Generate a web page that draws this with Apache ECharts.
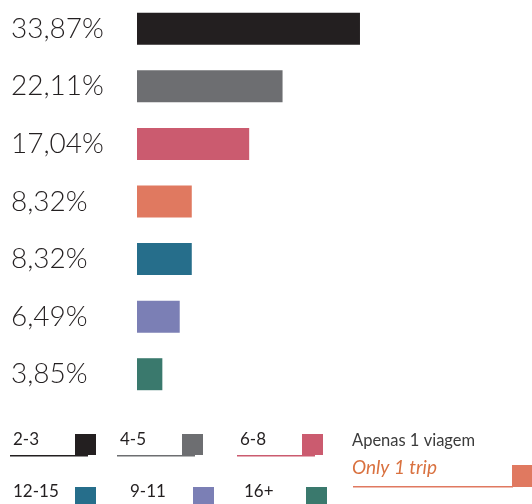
<!DOCTYPE html>
<html>
<head>
<meta charset="utf-8">
<script src="https://cdn.jsdelivr.net/npm/echarts@6/dist/echarts.min.js"></script>
<style>
  html, body { margin: 0; padding: 0; background: #fff; }
  #chart { width: 532px; height: 504px; }
</style>
</head>
<body>
<div id="chart"></div>
<script>
// categories (top to bottom) and values in %
const categories = ['2-3', '4-5', '6-8', 'Only 1 trip', '12-15', '9-11', '16+']
const values = [33.87, 22.11, 17.04, 8.32, 8.32, 6.49, 3.85]
const valueLabels = ['33,87%', '22,11%', '17,04%', '8,32%', '8,32%', '6,49%', '3,85%']
const colors = ['#231f20', '#6d6e71', '#cb5b6f', '#e07960', '#266e8b', '#7b7fb5', '#3a796d']

// legend layout order
const legendRow1 = ['2-3', '4-5', '6-8']
const legendRow2 = ['12-15', '9-11', '16+']

const font = 'Lato, "Noto Sans", sans-serif'
const colorOf = name => colors[categories.indexOf(name)]

let graphics = []
// first row: label with underline and square
const row1x = [13, 120, 240]
legendRow1.forEach((name, i) => {
  let x = row1x[i]
  let c = colorOf(name)
  graphics.push({ type: 'text', left: x, top: 431, style: { text: name, fill: '#231f20', font: '17px ' + font } })
  graphics.push({ type: 'rect', shape: { x: x - 3, y: 455, width: 78, height: 1.5 }, style: { fill: c } })
  graphics.push({ type: 'rect', shape: { x: x + 62, y: 434, width: 21, height: 21 }, style: { fill: c } })
})
// second row: label and square
const row2x = [13, 130, 244]
const row2sq = [75, 193, 306]
legendRow2.forEach((name, i) => {
  graphics.push({ type: 'text', left: row2x[i], top: 483, style: { text: name, fill: '#231f20', font: '17px ' + font } })
  graphics.push({ type: 'rect', shape: { x: row2sq[i], y: 487, width: 21, height: 21 }, style: { fill: colorOf(name) } })
})
// "only 1 trip" entry
graphics.push({ type: 'text', left: 352, top: 432, style: { text: 'Apenas 1 viagem', fill: '#3b3b3b', font: '16.5px ' + font } })
graphics.push({ type: 'text', left: 352, top: 458, style: { text: 'Only 1 trip', fill: '#d9713f', font: 'italic 19px ' + font } })
graphics.push({ type: 'rect', shape: { x: 353, y: 486, width: 160, height: 1.5 }, style: { fill: colorOf('Only 1 trip') } })
graphics.push({ type: 'rect', shape: { x: 512, y: 465, width: 20, height: 22 }, style: { fill: colorOf('Only 1 trip') } })

const chart = echarts.init(document.getElementById('chart'))
chart.setOption({
  animation: false,
  grid: { left: 137, right: 0, top: -3, height: 406, containLabel: false },
  xAxis: {
    type: 'value', min: 0, max: 60, show: false
  },
  yAxis: {
    type: 'category',
    data: categories,
    inverse: true,
    axisLine: { show: false },
    axisTick: { show: false },
    splitLine: { show: false },
    axisLabel: {
      margin: 126,
      align: 'left',
      color: '#231f20',
      fontSize: 28,
      fontWeight: 300,
      fontFamily: font,
      formatter: (v, i) => valueLabels[i]
    }
  },
  series: [{
    type: 'bar',
    barWidth: 32,
    data: values.map((v, i) => ({ value: v, itemStyle: { color: colors[i] } }))
  }],
  graphic: graphics
})
</script>
</body>
</html>
